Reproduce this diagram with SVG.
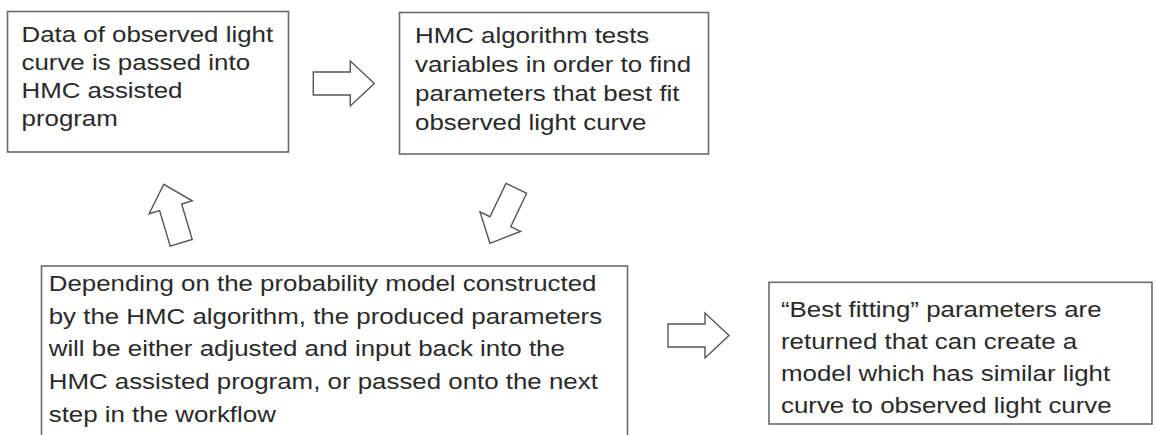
<svg xmlns="http://www.w3.org/2000/svg" width="1156" height="435" viewBox="0 0 1156 435">
<style>
.box{fill:#fff;stroke:#6a6a6a;stroke-width:1.6}
.arr{fill:#fff;stroke:#555;stroke-width:1.4;stroke-linejoin:miter}
.t{font-family:"Liberation Sans",Arial,sans-serif;font-size:22.5px;fill:#2a2a2a}
</style>
<defs>
<polygon id="blk" points="0,-11.5 37,-11.5 37,-22.5 61,0 37,22.5 37,11.5 0,11.5"/>
</defs>
<rect width="1156" height="435" fill="#fff"/>
<g id="connectors">
<use href="#blk" class="arr" transform="translate(313.3 83.5)"/>
<use href="#blk" class="arr" transform="translate(181.2 242.8) rotate(-106.6)"/>
<use href="#blk" class="arr" transform="translate(516.3 188.3) rotate(115.6)"/>
<use href="#blk" class="arr" transform="translate(668 335.5)"/>
</g>
<g id="node1">
<rect class="box" x="7.5" y="11.5" width="281" height="140.5"/>
<g transform="translate(21.5 0) scale(1.15 1)"><text class="t"><tspan x="0" y="41.7">Data of observed light</tspan><tspan x="0" y="69.9">curve is passed into</tspan><tspan x="0" y="98.1">HMC assisted</tspan><tspan x="0" y="126.3">program</tspan></text></g>
</g>
<g id="node2">
<rect class="box" x="399.5" y="12.5" width="309" height="141.5"/>
<g transform="translate(415 0) scale(1.15 1)"><text class="t"><tspan x="0" y="42.7">HMC algorithm tests</tspan><tspan x="0" y="71.8">variables in order to find</tspan><tspan x="0" y="100.9">parameters that best fit</tspan><tspan x="0" y="130">observed light curve</tspan></text></g>
</g>
<g id="node3">
<rect class="box" x="41.5" y="266" width="586" height="190"/>
<g transform="translate(48.7 0) scale(1.15 1)"><text class="t"><tspan x="0" y="291">Depending on the probability model constructed</tspan><tspan x="0" y="323.7">by the HMC algorithm, the produced parameters</tspan><tspan x="0" y="356.3">will be either adjusted and input back into the</tspan><tspan x="0" y="389">HMC assisted program, or passed onto the next</tspan><tspan x="0" y="421.6">step in the workflow</tspan></text></g>
</g>
<g id="node4">
<rect class="box" x="769" y="282.3" width="383" height="141.7"/>
<g transform="translate(781 0) scale(1.15 1)"><text class="t"><tspan x="0" y="317.5">“Best fitting” parameters are</tspan><tspan x="0" y="349.5">returned that can create a</tspan><tspan x="0" y="381.5">model which has similar light</tspan><tspan x="0" y="413.5">curve to observed light curve</tspan></text></g>
</g>
</svg>
